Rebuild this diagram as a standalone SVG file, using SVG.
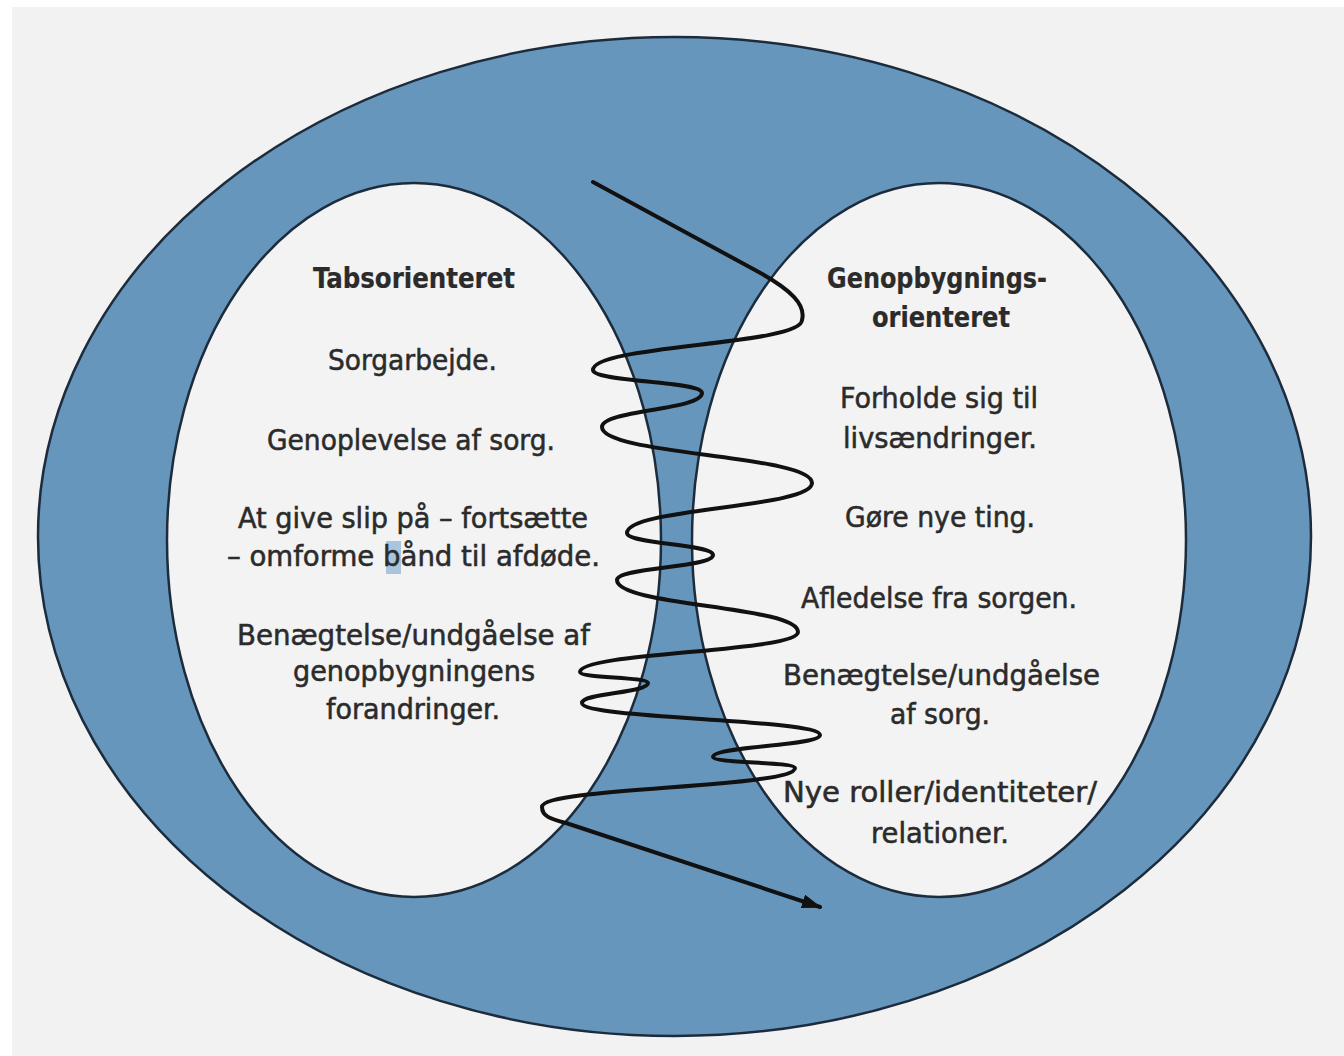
<svg xmlns="http://www.w3.org/2000/svg" width="1344" height="1056" viewBox="0 0 1344 1056">
<style>
.ring{fill:#6796bd;stroke:#1c2c3c;stroke-width:2.5}
.lobe{fill:#f3f3f3;stroke:#1c2c3c;stroke-width:2.5}
.t{font-family:"DejaVu Sans Condensed","Liberation Sans Narrow","DejaVu Sans",sans-serif;font-size:28px;fill:#2b2b2b;stroke:#2b2b2b;stroke-width:0.5;text-anchor:middle}
.h{font-weight:bold;stroke-width:0.2}
.spiral{fill:none;stroke:#111;stroke-width:4;stroke-linecap:round;stroke-linejoin:round}
</style>
<defs>
<marker id="arrow" markerUnits="userSpaceOnUse" markerWidth="20" markerHeight="14" refX="18" refY="7" orient="auto">
<path d="M0,0 L20,7 L0,14 z" fill="#111"/>
</marker>
</defs>
<rect x="0" y="0" width="1344" height="1056" fill="#ffffff"/>
<rect x="12" y="7" width="1332" height="1049" fill="#f2f2f2"/>
<g id="outer">
<ellipse class="ring" cx="674.5" cy="536.5" rx="636.5" ry="499.5"/>
</g>
<g id="loss">
<ellipse class="lobe" cx="414" cy="540" rx="247" ry="357"/>
<rect x="386" y="541" width="15" height="33" fill="#a9c5dc"/>
<text class="t h" x="414" y="288" textLength="202" lengthAdjust="spacingAndGlyphs">Tabsorienteret</text>
<text class="t" x="412.5" y="370" textLength="169" lengthAdjust="spacingAndGlyphs">Sorgarbejde.</text>
<text class="t" x="411" y="450" textLength="288" lengthAdjust="spacingAndGlyphs">Genoplevelse af sorg.</text>
<text class="t" x="413" y="528" textLength="350" lengthAdjust="spacingAndGlyphs">At give slip på – fortsætte</text>
<text class="t" x="413.5" y="566" textLength="373" lengthAdjust="spacingAndGlyphs">– omforme bånd til afdøde.</text>
<text class="t" x="413.5" y="645" textLength="353" lengthAdjust="spacingAndGlyphs">Benægtelse/undgåelse af</text>
<text class="t" x="414" y="681" textLength="242" lengthAdjust="spacingAndGlyphs">genopbygningens</text>
<text class="t" x="413" y="719" textLength="174" lengthAdjust="spacingAndGlyphs">forandringer.</text>
</g>
<g id="restoration">
<ellipse class="lobe" cx="939" cy="540" rx="247" ry="357"/>
<text class="t h" x="937" y="288" textLength="220" lengthAdjust="spacingAndGlyphs">Genopbygnings-</text>
<text class="t h" x="941" y="327" textLength="138" lengthAdjust="spacingAndGlyphs">orienteret</text>
<text class="t" x="939" y="408" textLength="198" lengthAdjust="spacingAndGlyphs">Forholde sig til</text>
<text class="t" x="940" y="448" textLength="194" lengthAdjust="spacingAndGlyphs">livsændringer.</text>
<text class="t" x="940" y="527" textLength="190" lengthAdjust="spacingAndGlyphs">Gøre nye ting.</text>
<text class="t" x="939" y="608" textLength="276" lengthAdjust="spacingAndGlyphs">Afledelse fra sorgen.</text>
<text class="t" x="941.5" y="685" textLength="317" lengthAdjust="spacingAndGlyphs">Benægtelse/undgåelse</text>
<text class="t" x="940" y="724" textLength="100" lengthAdjust="spacingAndGlyphs">af sorg.</text>
<text class="t" x="940" y="802" textLength="314" lengthAdjust="spacingAndGlyphs">Nye roller/identiteter/</text>
<text class="t" x="940" y="843" textLength="138" lengthAdjust="spacingAndGlyphs">relationer.</text>
</g>
<g id="connectors">
<path class="spiral" marker-end="url(#arrow)" d="M593,182 L755,270 C792,290 806,305 802,320 C802,345 593,345 593,370 C593,382 702,381 702,393 C702,410 602,410 602,427 C602,455 812,455 812,483 C812,508 627,508 627,533 C627,544 713,544 713,555 C713,568 617,567 617,580 C617,606 798,606 798,632 C798,652 580,652 580,672 C580,678 648,677 648,683 C648,693 582,693 582,703 C582,719 820,719 820,735 C820,746 713,746 713,757 C713,763 795,762 795,768 C795,788 542,787 542,807 C542,816 550,819 566,823 L820,907"/>
</g>
</svg>
